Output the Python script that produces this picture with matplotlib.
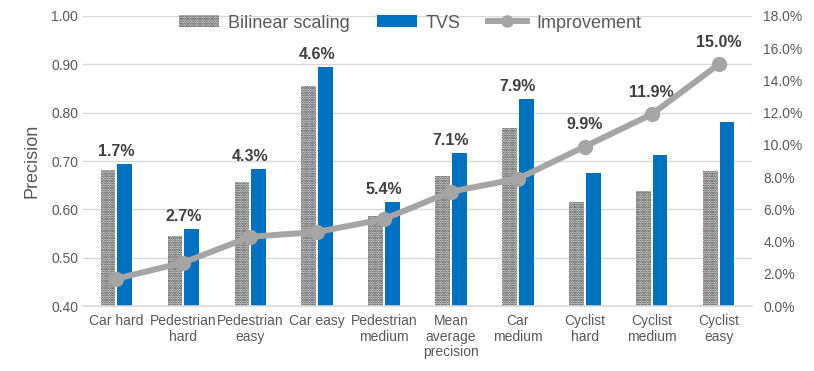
import matplotlib
matplotlib.use("Agg")
import matplotlib.pyplot as plt
import numpy as np
from matplotlib.patches import Patch
from matplotlib.lines import Line2D
from matplotlib.ticker import FuncFormatter, MultipleLocator

plt.rcParams['font.family'] = ['Liberation Sans', 'DejaVu Sans']
plt.rcParams['hatch.linewidth'] = 1.2

categories = ["Car hard", "Pedestrian\nhard", "Pedestrian\neasy", "Car easy",
              "Pedestrian\nmedium", "Mean\naverage\nprecision", "Car\nmedium",
              "Cyclist\nhard", "Cyclist\nmedium", "Cyclist\neasy"]
bilinear = [0.681, 0.545, 0.656, 0.855, 0.586, 0.669, 0.769, 0.615, 0.638, 0.679]
tvs = [0.693, 0.560, 0.684, 0.894, 0.616, 0.717, 0.828, 0.676, 0.713, 0.781]
improvement = [1.7, 2.7, 4.3, 4.6, 5.4, 7.1, 7.9, 9.9, 11.9, 15.0]
imp_labels = ["1.7%", "2.7%", "4.3%", "4.6%", "5.4%", "7.1%", "7.9%", "9.9%", "11.9%", "15.0%"]

TXT = '#595959'
GRID = '#D9D9D9'
BLUE = '#0070C0'
LINEC = '#A5A5A5'
HATCH_EC = '#2a2a2a'
HATCH_FC = '#ffffff'

fig = plt.figure(figsize=(8.14, 3.71), dpi=100)
ax = fig.add_axes([0.102, 0.175, 0.822, 0.782])
x = np.arange(len(categories))
w = 0.22
ax.bar(x - 0.125, bilinear, w, color=HATCH_FC, edgecolor=HATCH_EC, hatch='.......', linewidth=0, zorder=2)
ax.bar(x + 0.125, tvs, w, color=BLUE, linewidth=0, zorder=2)
ax.set_ylim(0.40, 1.00)
ax.set_xlim(-0.5, len(categories) - 0.5)
ax.yaxis.set_major_locator(MultipleLocator(0.1))
ax.yaxis.set_major_formatter(FuncFormatter(lambda v, p: f"{v:.2f}"))
ax.grid(axis='y', color=GRID, linewidth=1, zorder=0)
ax.set_axisbelow(True)
for s in ['top', 'right', 'left']:
    ax.spines[s].set_visible(False)
ax.spines['bottom'].set_color(GRID)
ax.spines['bottom'].set_linewidth(1.2)
ax.set_xticks(x)
ax.set_xticklabels(categories, fontsize=10, color=TXT, linespacing=1.1)
ax.tick_params(axis='both', length=0, colors=TXT, labelsize=10)
ax.tick_params(axis='x', pad=6)
ax.set_ylabel("Precision", fontsize=13, color=TXT, labelpad=8)

ax2 = ax.twinx()
ax2.plot(x, improvement, color=LINEC, linewidth=4.3, marker='o', markersize=10, zorder=3)
ax2.set_ylim(0, 18)
ax2.yaxis.set_major_locator(MultipleLocator(2))
ax2.yaxis.set_major_formatter(FuncFormatter(lambda v, p: f"{v:.1f}%"))
ax2.tick_params(axis='y', length=0, colors=TXT, labelsize=10, pad=8)
for s in ax2.spines.values():
    s.set_visible(False)

# labels above the highest of TVS bar / line point
for i in range(len(categories)):
    pt = 0.40 + improvement[i] / 18 * 0.6
    if pt + 0.02 > tvs[i]:
        y = max(pt + 0.046, tvs[i] + 0.026)
    else:
        y = tvs[i] + 0.026
    ax.text(x[i], y, imp_labels[i], ha='center', va='center',
            fontsize=11.5, fontweight='bold', color='#404040', zorder=5)

handles = [Patch(facecolor=HATCH_FC, edgecolor=HATCH_EC, hatch='.......', linewidth=0),
           Patch(facecolor=BLUE),
           Line2D([0], [0], color=LINEC, linewidth=4.3, marker='o', markersize=8)]
leg = fig.legend(handles, ["Bilinear scaling", "TVS", "Improvement"], loc='center',
                 bbox_to_anchor=(0.504, 0.938), ncol=3, frameon=False, fontsize=13,
                 handlelength=2.2, handleheight=0.6, columnspacing=1.5, handletextpad=0.5)
for t in leg.get_texts():
    t.set_color(TXT)

fig.savefig("out.png", dpi=100)
